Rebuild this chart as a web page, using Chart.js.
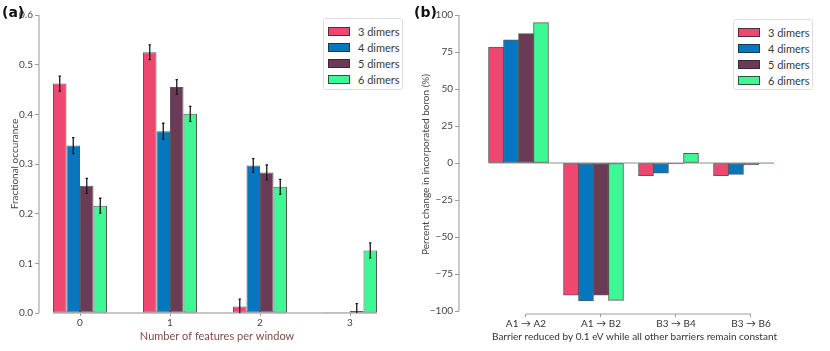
<!DOCTYPE html>
<html><head><meta charset="utf-8">
<script src="https://cdn.jsdelivr.net/npm/chart.js@4.4.1/dist/chart.umd.min.js"></script>
<style>
body{margin:0;width:830px;height:351px;background:#fff;position:relative;overflow:hidden;font-family:Lato,sans-serif;}
canvas{position:absolute;top:0}
.panel{position:absolute;font:bold 14px "DejaVu Sans";color:#111;line-height:1}
.legend{position:absolute;border:1px solid #ddd;border-radius:3px;background:#fff;box-sizing:border-box}
.legend .item{position:absolute;left:4px;height:16px;display:flex;align-items:center;font:11px Lato;color:#3a3a3a;white-space:nowrap}
.sw{width:22px;height:9px;border:1px solid rgba(40,40,40,.8);box-sizing:border-box;margin-right:8px}
</style></head>
<body>
<canvas id="ca" width="415" height="351" style="left:0"></canvas>
<canvas id="cb" width="415" height="351" style="left:415px"></canvas>
<div class="panel" style="left:2px;top:5px">(a)</div>
<div class="panel" style="left:414px;top:5px">(b)</div>
<div class="legend" id="la" style="left:323px;top:18px;width:80px;height:72px"></div>
<div class="legend" id="lb" style="left:733px;top:19px;width:80px;height:71px"></div>
<script>
// ---------- data ----------
const seriesNames = ['3 dimers', '4 dimers', '5 dimers', '6 dimers'];
const seriesColors = ['#ef476f', '#0677bf', '#6b3a56', '#3ef795'];

const featureCounts = ['0', '1', '2', '3'];
const frac3 = [0.462, 0.525, 0.013, 0.0005];
const frac4 = [0.337, 0.366, 0.297, 0.0005];
const frac5 = [0.256, 0.455, 0.283, 0.004];
const frac6 = [0.216, 0.401, 0.254, 0.126];
const fracErr3 = [0.015, 0.015, 0.015, 0];
const fracErr4 = [0.016, 0.016, 0.014, 0];
const fracErr5 = [0.015, 0.015, 0.015, 0.015];
const fracErr6 = [0.015, 0.015, 0.015, 0.015];
const fracTicks = [0, 0.1, 0.2, 0.3, 0.4, 0.5, 0.6];

const barriers = ['A1 \u2192 A2', 'A1 \u2192 B2', 'B3 \u2192 B4', 'B3 \u2192 B6'];
const pct3 = [78.4, -89.2, -8.6, -8.6];
const pct4 = [83.3, -93.2, -6.8, -7.7];
const pct5 = [87.4, -89.2, -0.6, -1.3];
const pct6 = [94.8, -92.8, 6.5, -0.4];
const pctTicks = [-100, -75, -50, -25, 0, 25, 50, 75, 100];

// ---------- plugins ----------
const zeroLine = {
  id: 'zeroLine',
  beforeDatasetsDraw(chart, args, o) {
    let lo = Infinity, hi = -Infinity;
    for (let d = 0; d < o.n; d++) {
      chart.getDatasetMeta(d).data.forEach(b => {
        const p = b.getProps(['x', 'width'], true);
        lo = Math.min(lo, p.x - p.width / 2); hi = Math.max(hi, p.x + p.width / 2);
      });
    }
    const y = chart.scales.y.getPixelForValue(0), ctx = chart.ctx;
    ctx.save(); ctx.strokeStyle = o.color; ctx.lineWidth = o.width;
    ctx.beginPath(); ctx.moveTo(lo, y); ctx.lineTo(hi, y); ctx.stroke(); ctx.restore();
  }
};
const spines = {
  id: 'spines',
  afterDraw(chart, args, o) {
    const ctx = chart.ctx, xs = chart.scales.x, ys = chart.scales.y, a = chart.chartArea;
    ctx.save(); ctx.strokeStyle = o.color; ctx.lineWidth = 1.1;
    const yt = ys.ticks;
    ctx.beginPath();
    ctx.moveTo(a.left, ys.getPixelForValue(yt[0].value));
    ctx.lineTo(a.left, ys.getPixelForValue(yt[yt.length - 1].value));
    if (o.xSpine) {
      const xt = xs.ticks;
      ctx.moveTo(xs.getPixelForValue(xt[0].value), a.bottom);
      ctx.lineTo(xs.getPixelForValue(xt[xt.length - 1].value), a.bottom);
    }
    ctx.stroke(); ctx.restore();
  }
};
const errorBars = {
  id: 'errorBars',
  afterDatasetsDraw(chart, args, o) {
    if (!o.errors) return;
    const ctx = chart.ctx, ys = chart.scales.y, a = chart.chartArea;
    ctx.save();
    ctx.beginPath(); ctx.rect(a.left, a.top, a.right - a.left, a.bottom - a.top); ctx.clip();
    ctx.strokeStyle = '#1a1a1a'; ctx.lineWidth = 1.3;
    o.errors.forEach((arr, d) => {
      chart.getDatasetMeta(d).data.forEach((bar, i) => {
        const e = arr[i]; if (!e) return;
        const v = chart.data.datasets[d].data[i].y;
        const x = bar.getProps(['x'], true).x;
        const y1 = ys.getPixelForValue(v - e), y2 = ys.getPixelForValue(v + e);
        ctx.beginPath();
        ctx.moveTo(x, y1); ctx.lineTo(x, y2);
        ctx.moveTo(x - 1.2, y1); ctx.lineTo(x + 1.2, y1);
        ctx.moveTo(x - 1.2, y2); ctx.lineTo(x + 1.2, y2);
        ctx.stroke();
      });
    });
    ctx.restore();
  }
};

function points(vals) { return vals.map((v, i) => ({ x: i, y: v })); }
function makeSets(list) {
  return list.map((vals, k) => ({
    label: seriesNames[k], data: points(vals),
    backgroundColor: seriesColors[k], borderColor: 'rgba(35,35,35,0.75)',
    borderWidth: 1, borderSkipped: false
  }));
}
const tickFont = { family: 'Lato', size: 10 };
const gridTicks = { display: true, drawOnChartArea: false, drawTicks: true, tickLength: 4, color: '#9a9a9a', offset: false };

// ---------- chart (a) ----------
new Chart(document.getElementById('ca'), {
  type: 'bar',
  data: { datasets: makeSets([frac3, frac4, frac5, frac6]) },
  options: {
    responsive: false, animation: false, devicePixelRatio: 1,
    categoryPercentage: 0.6, barPercentage: 1,
    layout: { padding: { top: 15, right: 20, left: 0, bottom: 0 } },
    plugins: {
      legend: { display: false }, tooltip: { enabled: false },
      zeroLine: { n: 4, color: '#b4b4b4', width: 1.6 },
      spines: { color: '#a0a0a0', xSpine: false },
      errorBars: { errors: [fracErr3, fracErr4, fracErr5, fracErr6] }
    },
    scales: {
      x: {
        type: 'linear', min: -0.4556, max: 3.5, offset: false,
        afterBuildTicks: s => { s.ticks = featureCounts.map((_, i) => ({ value: i })); },
        afterFit: s => { s.height = 38; },
        ticks: { font: tickFont, color: '#444', padding: 1, callback: v => featureCounts[v] },
        grid: Object.assign({}, gridTicks, { tickLength: 3 }),
        border: { display: false },
        title: { display: true, text: 'Number of features per window', color: '#86494b',
                 font: { family: 'Lato', size: 11 }, padding: { top: 0, bottom: 8 } }
      },
      y: {
        min: 0, max: 0.6,
        afterBuildTicks: s => { s.ticks = fracTicks.map(v => ({ value: v })); },
        afterFit: s => { s.width = 39; },
        ticks: { font: tickFont, color: '#444', padding: 2, callback: v => v.toFixed(1) },
        grid: gridTicks, border: { display: false },
        title: { display: true, text: 'Fractional occurance', color: '#444',
                 font: { family: 'Lato', size: 10 }, padding: { top: 9, bottom: 0 } }
      }
    }
  },
  plugins: [zeroLine, spines, errorBars]
});

// ---------- chart (b) ----------
const setsB = makeSets([pct3, pct4, pct5, pct6]);
setsB.push({ label: '', data: points(pct3.map(() => 0)), backgroundColor: 'rgba(0,0,0,0)', borderWidth: 0 });
new Chart(document.getElementById('cb'), {
  type: 'bar',
  data: { datasets: setsB },
  options: {
    responsive: false, animation: false, devicePixelRatio: 1,
    categoryPercentage: 1, barPercentage: 1,
    layout: { padding: { top: 15, right: 20, left: 0, bottom: 0 } },
    plugins: {
      legend: { display: false }, tooltip: { enabled: false },
      zeroLine: { n: 4, color: '#b4b4b4', width: 1.4 },
      spines: { color: '#a0a0a0', xSpine: true }
    },
    scales: {
      x: {
        type: 'linear', min: -0.8933, max: 3.7867, offset: false,
        afterBuildTicks: s => { s.ticks = barriers.map((_, i) => ({ value: i })); },
        afterFit: s => { s.height = 37; },
        ticks: { font: tickFont, color: '#333', padding: 1, callback: v => barriers[v] },
        grid: Object.assign({}, gridTicks, { tickLength: 3 }),
        border: { display: false },
        title: { display: true, text: 'Barrier reduced by 0.1 eV while all other barriers remain constant',
                 color: '#333', font: { family: 'Lato', size: 10 }, padding: { top: 0, bottom: 8 } }
      },
      y: {
        min: -102, max: 100,
        afterBuildTicks: s => { s.ticks = pctTicks.map(v => ({ value: v })); },
        afterFit: s => { s.width = 44; },
        ticks: { font: tickFont, color: '#444', padding: 2,
                 callback: v => v < 0 ? '\u2212' + Math.abs(v) : String(v) },
        grid: gridTicks, border: { display: false },
        title: { display: true, text: 'Percent change in incorporated boron (%)', color: '#444',
                 font: { family: 'Lato', size: 10 }, padding: { top: 5, bottom: 0 } }
      }
    }
  },
  plugins: [zeroLine, spines]
});

// ---------- legends ----------
function buildLegend(id) {
  const el = document.getElementById(id);
  seriesNames.forEach((n, k) => {
    const it = document.createElement('div');
    it.className = 'item'; it.style.top = (4 + k * 16) + 'px';
    const sw = document.createElement('span'); sw.className = 'sw'; sw.style.background = seriesColors[k];
    it.appendChild(sw); it.appendChild(document.createTextNode(n));
    el.appendChild(it);
  });
}
buildLegend('la'); buildLegend('lb');
</script>
</body></html>
